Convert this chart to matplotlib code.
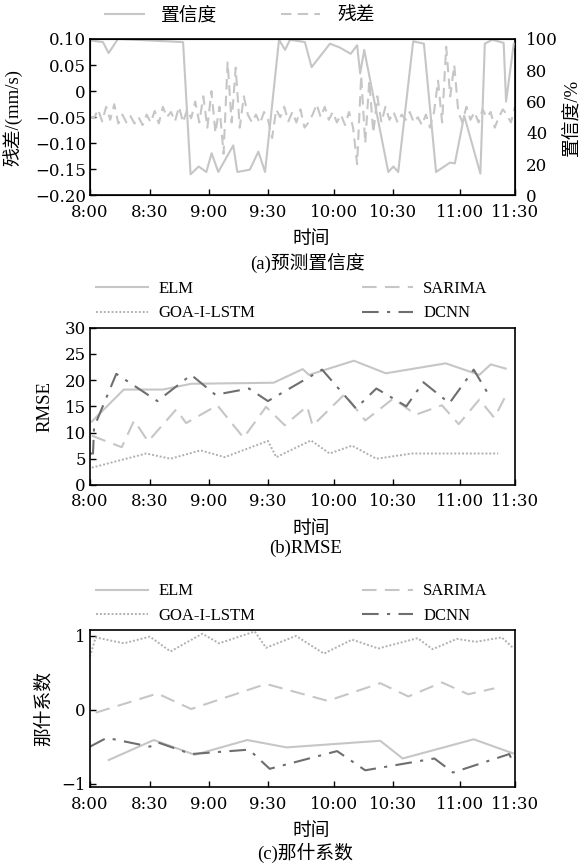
import matplotlib
matplotlib.use("Agg")
import matplotlib.pyplot as plt

plt.rcParams["font.family"] = ["DejaVu Serif", "Noto Sans CJK SC"]
plt.rcParams["axes.unicode_minus"] = True

CJK = ["Noto Sans CJK SC", "DejaVu Serif"]
LAT = ["Liberation Serif", "Noto Sans CJK SC"]

# x axis: minutes after 8:00, tick spacing (not even)
tick_pos = [0, 29.6, 58.6, 87.8, 120.8, 149.8, 182.7, 210]
tick_lab = ["8:00", "8:30", "9:00", "9:30", "10:00", "10:30", "11:00", "11:30"]

# ---- (a) confidence / residual ----
conf_t = [0.6, 6.4, 9.2, 13.8, 46.0, 49.7, 53.7, 57.5, 60.1, 63.4, 70.8, 72.8,
          79.0, 83.2, 86.5, 93.4, 96.4, 98.8, 106.2, 109.5, 118.6, 123.5,
          128.8, 132.0, 133.5, 135.5, 147.4, 149.9, 152.3, 159.7, 165.0,
          171.0, 177.9, 180.3, 184.9, 192.9, 195.1, 198.8, 204.4, 205.6, 209.4]
conf_v = [99, 98, 91, 100, 98, 13.5, 18.5, 15, 27, 15, 32, 15,
          16.5, 28, 15, 99.5, 93, 99.5, 98, 82, 97, 94.5,
          90.5, 96, 78, 93, 15, 18.5, 15, 98.5, 97,
          15, 21, 20.5, 51, 14, 97, 99.5, 97.5, 60, 97]

res_t = [0, 2, 4, 6, 8, 10, 12, 14, 16, 18, 20, 22, 24, 26, 28, 30, 32, 34,
         36, 38, 40, 42, 44, 46, 48, 50, 52, 54, 56, 58, 60, 62, 64, 66, 68,
         70, 72, 74, 76, 78, 80, 82, 84, 86, 88, 90, 92, 94, 96, 98, 100, 102,
         104, 106, 108, 110, 112, 114, 116, 118, 120, 122, 124, 126, 128, 130,
         132, 134, 136, 138, 140, 142, 144, 146, 148, 150, 152, 154, 156, 158,
         160, 162, 164, 166, 168, 170, 172, 174, 176, 178, 180, 182, 184, 186,
         188, 190, 192, 194, 196, 198, 200, 202, 204, 206, 208, 210]
res_v = [-0.050, -0.052, -0.035, -0.058, -0.030, -0.055, -0.025, -0.062,
         -0.045, -0.060, -0.048, -0.062, -0.050, -0.065, -0.045, -0.060,
         -0.038, -0.062, -0.030, -0.050, -0.040, -0.058, -0.030, -0.060,
         -0.035, -0.052, -0.020, -0.060, -0.010, -0.070, 0.000, -0.080,
         -0.030, -0.120, 0.055, -0.060, 0.045, -0.070, -0.010, -0.045,
         -0.060, -0.045, -0.062, -0.040, -0.055, -0.090, -0.035, -0.050,
         -0.030, -0.058, -0.040, -0.060, -0.035, -0.070, -0.060, -0.045,
         -0.025, -0.050, -0.030, -0.055, -0.040, -0.060, -0.045, -0.065,
         -0.040, -0.070, -0.140, 0.030, -0.100, 0.020, -0.080, -0.010,
         -0.060, -0.030, -0.055, -0.040, -0.060, -0.045, -0.055, -0.040,
         -0.060, -0.050, -0.065, -0.045, -0.070, -0.040, 0.020, -0.060,
         0.085, -0.010, 0.050, -0.040, -0.060, -0.030, -0.055, -0.040,
         -0.060, -0.035, -0.050, -0.040, -0.070, -0.050, -0.035, -0.045,
         -0.060, -0.030]

# ---- (b) RMSE ----
elm_rmse_t = [0.9, 16.7, 36.1, 50.0, 90.7, 105.1, 108.2, 130.4, 146.2, 175.8, 192.4, 198.0, 205.4]
elm_rmse = [12.1, 18.2, 18.2, 19.3, 19.5, 22.1, 21.0, 23.7, 21.3, 23.2, 21.0, 23.0, 22.2]
sar_rmse_t = [0.9, 15.7, 21.8, 28.7, 42.6, 47.5, 62.9, 75.9, 87.0, 96.2, 107.3, 110.0,
              125.8, 136.0, 149.9, 161.0, 173.9, 182.2, 192.4, 199.8, 205.4]
sar_rmse = [9.4, 7.2, 12.3, 8.3, 14.4, 11.8, 15.2, 9.0, 14.9, 11.4, 15.0, 11.3,
            17.3, 12.3, 16.5, 13.4, 15.2, 11.6, 16.3, 12.8, 17.0]
goa_rmse_t = [0.9, 27.8, 39.8, 54.6, 66.6, 87.9, 92.1, 109.2, 118.4, 129.5, 141.5, 159.1, 201.7]
goa_rmse = [3.3, 6.0, 5.0, 6.6, 5.3, 8.4, 5.3, 8.5, 6.0, 7.5, 5.0, 6.0, 6.0]
dcnn_rmse_t = [0.0, 1.5, 2.0, 13.0, 33.3, 50.0, 62.0, 78.6, 87.9, 114.7, 131.4,
               141.5, 156.3, 164.7, 177.6, 189.6, 196.1]
dcnn_rmse = [6.0, 6.0, 11.0, 21.2, 16.0, 21.0, 17.2, 18.4, 16.0, 22.0, 14.6,
             18.4, 15.0, 19.6, 15.6, 22.0, 17.8]

# ---- (c) Nash coefficient ----
elm_nse_t = [9.3, 31.5, 51.8, 77.7, 97.1, 143.4, 154.5, 189.6, 209.0]
elm_nse = [-0.68, -0.41, -0.61, -0.41, -0.51, -0.42, -0.66, -0.40, -0.59]
sar_nse_t = [2.8, 33.3, 50.0, 87.0, 117.5, 143.4, 157.3, 173.9, 186.9, 199.8]
sar_nse = [-0.04, 0.22, 0.01, 0.35, 0.12, 0.36, 0.18, 0.37, 0.21, 0.29]
goa_nse_t = [0.0, 2.8, 16.7, 29.6, 39.8, 55.5, 63.8, 81.4, 87.0, 101.8, 115.6,
             129.5, 142.5, 161.9, 169.3, 181.3, 190.6, 203.5, 209.0]
goa_nse = [0.72, 0.98, 0.90, 0.99, 0.79, 1.03, 0.90, 1.06, 0.84, 1.00, 0.76,
           0.95, 0.83, 0.97, 0.82, 0.96, 0.92, 0.98, 0.84]
dcnn_nse_t = [0.0, 8.3, 29.6, 33.3, 50.0, 78.6, 88.8, 122.1, 136.0, 170.2, 179.4, 207.2, 209.4]
dcnn_nse = [-0.50, -0.38, -0.50, -0.44, -0.60, -0.54, -0.80, -0.56, -0.82, -0.66, -0.85, -0.60, -0.74]

LIGHT = "#c6c6c6"
MID = "#b0b0b0"
DARK = "#6e6e6e"
SAR_LS = (0, (7, 4))
GOA_LS = (0, (1, 1))
DCNN_LS = (0, (8, 4, 1.5, 4))
TICK_FS = 12
CJK_FS = 13.5


def style_axes(ax):
    ax.set_xlim(0, 210)
    ax.set_xticks(tick_pos)
    ax.set_xticklabels(tick_lab)
    ax.tick_params(direction="in", length=4, width=1, labelsize=TICK_FS, pad=3)
    ax.tick_params(axis="x", pad=6)
    for s in ax.spines.values():
        s.set_linewidth(1.2)
    ax.set_xlabel("时间", family=CJK, fontsize=CJK_FS, va="center")
    ax.xaxis.set_label_coords(0.52, -0.275)


def add_legend(ax, handles, labels):
    ax.legend(handles, labels, ncol=2, frameon=False, loc="lower left",
              bbox_to_anchor=(0.015, 1.04), borderaxespad=0, borderpad=0,
              handlelength=3.1, handletextpad=0.6, columnspacing=6.4,
              labelspacing=0.5, prop={"family": LAT, "size": 12})


fig = plt.figure(figsize=(5.87, 8.66), dpi=100)

# ---------------- (a) ----------------
ax = fig.add_axes([0.1533, 0.7743, 0.724, 0.1807])
ax2 = ax.twinx()
l_res, = ax.plot(res_t, res_v, color=LIGHT, lw=1.5, ls=(0, (5, 3)), label="残差")
l_conf, = ax2.plot(conf_t, conf_v, color=LIGHT, lw=1.5, label="置信度")
style_axes(ax)
ax.set_ylim(-0.2, 0.1)
ax.set_yticks([0.10, 0.05, 0, -0.05, -0.10, -0.15, -0.20])
ax.set_yticklabels(["0.10", "0.05", "0", "\u22120.05", "\u22120.10", "\u22120.15", "\u22120.20"])
ax2.set_ylim(0, 100)
ax2.set_yticks([0, 20, 40, 60, 80, 100])
ax2.tick_params(direction="in", length=0, labelsize=TICK_FS, pad=8)
ax.set_ylabel("残差/(mm/s)", family=LAT, fontsize=CJK_FS)
ax.yaxis.set_label_coords(-0.16, 0.5)
ax2.set_ylabel("置信度/%", family=LAT, fontsize=CJK_FS)
ax2.yaxis.set_label_coords(1.113, 0.5)
ax.legend([l_conf, l_res], ["置信度", "残差"], ncol=2, frameon=False,
          loc="center left", bbox_to_anchor=(0.035, 1.155), borderaxespad=0,
          borderpad=0, handlelength=2.1, handletextpad=0.9, columnspacing=3.4,
          prop={"family": CJK, "size": CJK_FS})
fig.text(0.523, 1 - 263 / 866, "(a)预测置信度", ha="center", va="center",
         family=LAT, fontsize=CJK_FS)

# ---------------- (b) ----------------
axb = fig.add_axes([0.1533, 0.440, 0.724, 0.1816])
h1, = axb.plot(elm_rmse_t, elm_rmse, color=LIGHT, lw=1.5)
h2, = axb.plot(sar_rmse_t, sar_rmse, color=LIGHT, lw=1.5, ls=SAR_LS)
h3, = axb.plot(goa_rmse_t, goa_rmse, color=MID, lw=1.4, ls=GOA_LS)
h4, = axb.plot(dcnn_rmse_t, dcnn_rmse, color=DARK, lw=1.5, ls=DCNN_LS)
style_axes(axb)
axb.set_ylim(0, 30)
axb.set_yticks([0, 5, 10, 15, 20, 25, 30])
axb.set_ylabel("RMSE", family=LAT, fontsize=CJK_FS)
axb.yaxis.set_label_coords(-0.085, 0.5)
add_legend(axb, [h1, h3, h2, h4], ["ELM", "GOA-I-LSTM", "SARIMA", "DCNN"])
fig.text(0.52, 1 - 548 / 866, "(b)RMSE", ha="center", va="center",
         family=LAT, fontsize=CJK_FS)

# ---------------- (c) ----------------
axc = fig.add_axes([0.1533, 0.0909, 0.724, 0.1816])
g1, = axc.plot(elm_nse_t, elm_nse, color=LIGHT, lw=1.5)
g2, = axc.plot(sar_nse_t, sar_nse, color=LIGHT, lw=1.5, ls=SAR_LS)
g3, = axc.plot(goa_nse_t, goa_nse, color=MID, lw=1.4, ls=GOA_LS)
g4, = axc.plot(dcnn_nse_t, dcnn_nse, color=DARK, lw=1.5, ls=DCNN_LS)
style_axes(axc)
axc.set_ylim(-1.05, 1.08)
axc.set_yticks([-1, 0, 1])
axc.set_yticklabels(["\u22121", "0", "1"])
axc.set_ylabel("那什系数", family=CJK, fontsize=CJK_FS)
axc.yaxis.set_label_coords(-0.085, 0.5)
add_legend(axc, [g1, g3, g2, g4], ["ELM", "GOA-I-LSTM", "SARIMA", "DCNN"])
fig.text(0.52, 1 - 853 / 866, "(c)那什系数", ha="center", va="center",
         family=LAT, fontsize=CJK_FS)

fig.savefig("out.png", dpi=100)
